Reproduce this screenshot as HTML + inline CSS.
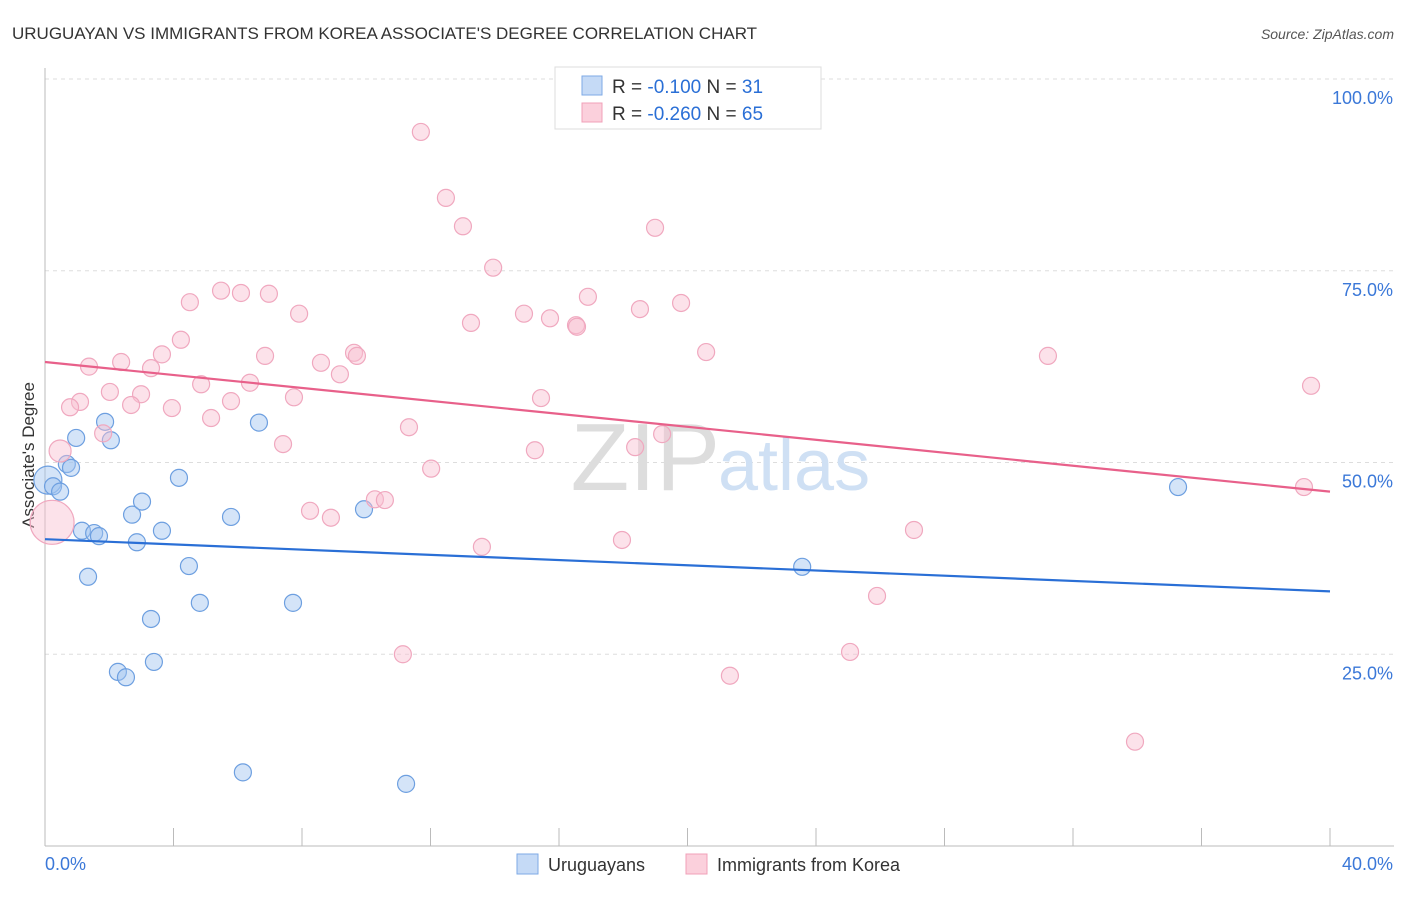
<!DOCTYPE html>
<html><head><meta charset="utf-8"><style>
body{margin:0;background:#fff;font-family:"Liberation Sans",sans-serif;}
svg text{font-family:"Liberation Sans",sans-serif;}
</style></head><body>
<svg width="1406" height="892" id="chart">
<text x="12" y="39" font-size="17" fill="#333">URUGUAYAN VS IMMIGRANTS FROM KOREA ASSOCIATE'S DEGREE CORRELATION CHART</text>
<text x="1394" y="39" font-size="14" fill="#555" font-style="italic" text-anchor="end">Source: ZipAtlas.com</text>
<g id="grid"></g>
<text x="720" y="490" font-size="96" fill="#ddd" font-family="Liberation Serif" text-anchor="end">ZIP</text>
<text x="718" y="490" font-size="72" fill="#cfe0f4">atlas</text>
<g id="axes"></g>
<text transform="translate(34,455) rotate(-90)" font-size="17" fill="#333" text-anchor="middle">Associate's Degree</text>
<g id="marks"></g>
<g>
<rect x="555" y="67" width="266" height="62" fill="#fff" stroke="#ddd"/>
<rect x="582" y="76" width="20" height="19" fill="#c5daf6" stroke="#7eaae6"/>
<rect x="582" y="103" width="20" height="19" fill="#fbd0dc" stroke="#f0a0b8"/>
<text x="612" y="93" font-size="19" fill="#333">R = <tspan fill="#2a6fd6">-0.100</tspan>   N = <tspan fill="#2a6fd6"> 31</tspan></text>
<text x="612" y="120" font-size="19" fill="#333">R = <tspan fill="#2a6fd6">-0.260</tspan>   N = <tspan fill="#2a6fd6">65</tspan></text>
</g>
<g>
<rect x="517" y="854" width="21" height="20" fill="#c5daf6" stroke="#7eaae6"/>
<text x="548" y="871" font-size="18" fill="#333">Uruguayans</text>
<rect x="686" y="854" width="21" height="20" fill="#fbd0dc" stroke="#f0a0b8"/>
<text x="717" y="871" font-size="18" fill="#333">Immigrants from Korea</text>
</g>
</svg>
<script>
const yTicks=[25,50,75,100];
const yTickLabels=["25.0%","50.0%","75.0%","100.0%"];
const xTickVals=[0,4,8,12,16,20,24,28,32,36,40];
const xLabels=["0.0%","40.0%"];
const uruX=[0.09,0.25,0.47,0.68,0.81,0.97,1.87,2.05,1.15,1.53,1.68,1.34,2.86,2.71,3.02,3.64,4.17,3.30,3.39,2.27,2.52,4.48,4.82,5.79,6.66,6.16,7.72,9.93,11.24,23.57,35.27];
const uruY=[47.7,46.9,46.2,49.8,49.3,53.2,55.3,52.9,41.1,40.8,40.4,35.1,39.6,43.2,44.9,41.1,48.0,29.6,24.0,22.7,22.0,36.5,31.7,42.9,55.2,9.6,31.7,43.9,8.1,36.4,46.8];
const korX=[11.70,12.48,13.01,18.99,13.95,5.48,6.10,6.97,16.90,4.51,19.80,18.52,7.91,14.91,15.72,13.26,16.53,16.56,4.23,9.62,3.64,9.71,6.85,20.58,31.22,1.37,2.37,3.30,8.59,9.18,4.86,6.38,2.02,2.99,39.41,7.75,15.44,1.09,0.78,5.79,2.68,3.95,5.17,1.81,11.33,19.21,7.41,15.25,18.37,0.47,12.02,10.27,10.58,8.25,8.90,39.19,0.22,27.05,13.60,17.96,25.90,11.14,25.06,21.32,33.93];
const korY=[93.1,84.5,80.8,80.6,75.4,72.4,72.1,72.0,71.6,70.9,70.8,70.0,69.4,69.4,68.8,68.2,67.9,67.7,66.0,64.3,64.1,63.9,63.9,64.4,63.9,62.5,63.1,62.3,63.0,61.5,60.2,60.4,59.2,58.9,60.0,58.5,58.4,57.9,57.2,58.0,57.5,57.1,55.8,53.8,54.6,53.7,52.4,51.6,52.0,51.5,49.2,45.2,45.1,43.7,42.8,46.8,42.2,41.2,39.0,39.9,32.6,25.0,25.3,22.2,13.6];
const uruTrend=[40.0,33.2];
const korTrend=[63.1,46.2];
const NS="http://www.w3.org/2000/svg";
const X=v=>45+v/40*1285, Y=v=>846-v/100*767;
function mk(tag,attrs,parent){const e=document.createElementNS(NS,tag);for(const k in attrs)e.setAttribute(k,attrs[k]);parent.appendChild(e);return e;}
const grid=document.getElementById('grid'),axes=document.getElementById('axes'),marks=document.getElementById('marks');
yTicks.forEach((t,i)=>{
 const l=mk('line',{x1:45,x2:1394,y1:Y(t),y2:Y(t),stroke:'#ddd','stroke-dasharray':'4,4'},grid);
 
 
 const tx=mk('text',{x:1393,y:Y(t)+25,'font-size':18,fill:'#3b78d8','text-anchor':'end'},axes);
 tx.textContent=yTickLabels[i];
 
 
});
mk('line',{x1:45,x2:45,y1:68,y2:846,stroke:'#bbb'},axes);
mk('line',{x1:45,x2:1394,y1:846,y2:846,stroke:'#bbb'},axes);
xTickVals.forEach(t=>{
 const l=mk('line',{x1:X(t),x2:X(t),y1:828,y2:846,stroke:'#bbb'},axes);
 
 
});
const xl1=mk('text',{x:45,y:870,'font-size':18,fill:'#3b78d8'},axes);xl1.textContent=xLabels[0];


const xl2=mk('text',{x:1393,y:870,'font-size':18,fill:'#3b78d8','text-anchor':'end'},axes);xl2.textContent=xLabels[1];


function pts(xs,ys,fill,stroke,name){xs.forEach((x,i)=>{
 let r=8.5; if(x<0.3&&name==='korea-point')r=22; else if(x<0.5&&name==='korea-point')r=11; else if(x<0.1)r=14;
 const c=mk('circle',{cx:X(x),cy:Y(ys[i]),r:r,fill:fill,stroke:stroke,'stroke-width':1.2},marks);
 
 
});}
pts(uruX,uruY,'rgba(160,195,240,0.45)','#6d9fe0','uruguayan-point');
pts(korX,korY,'rgba(248,190,208,0.45)','#f0a8bf','korea-point');
const t1=mk('line',{x1:X(0),y1:Y(uruTrend[0]),x2:X(40),y2:Y(uruTrend[1]),stroke:'#2a6fd6','stroke-width':2.2},marks);


const t2=mk('line',{x1:X(0),y1:Y(korTrend[0]),x2:X(40),y2:Y(korTrend[1]),stroke:'#e8608a','stroke-width':2.2},marks);


</script>
</body></html>
